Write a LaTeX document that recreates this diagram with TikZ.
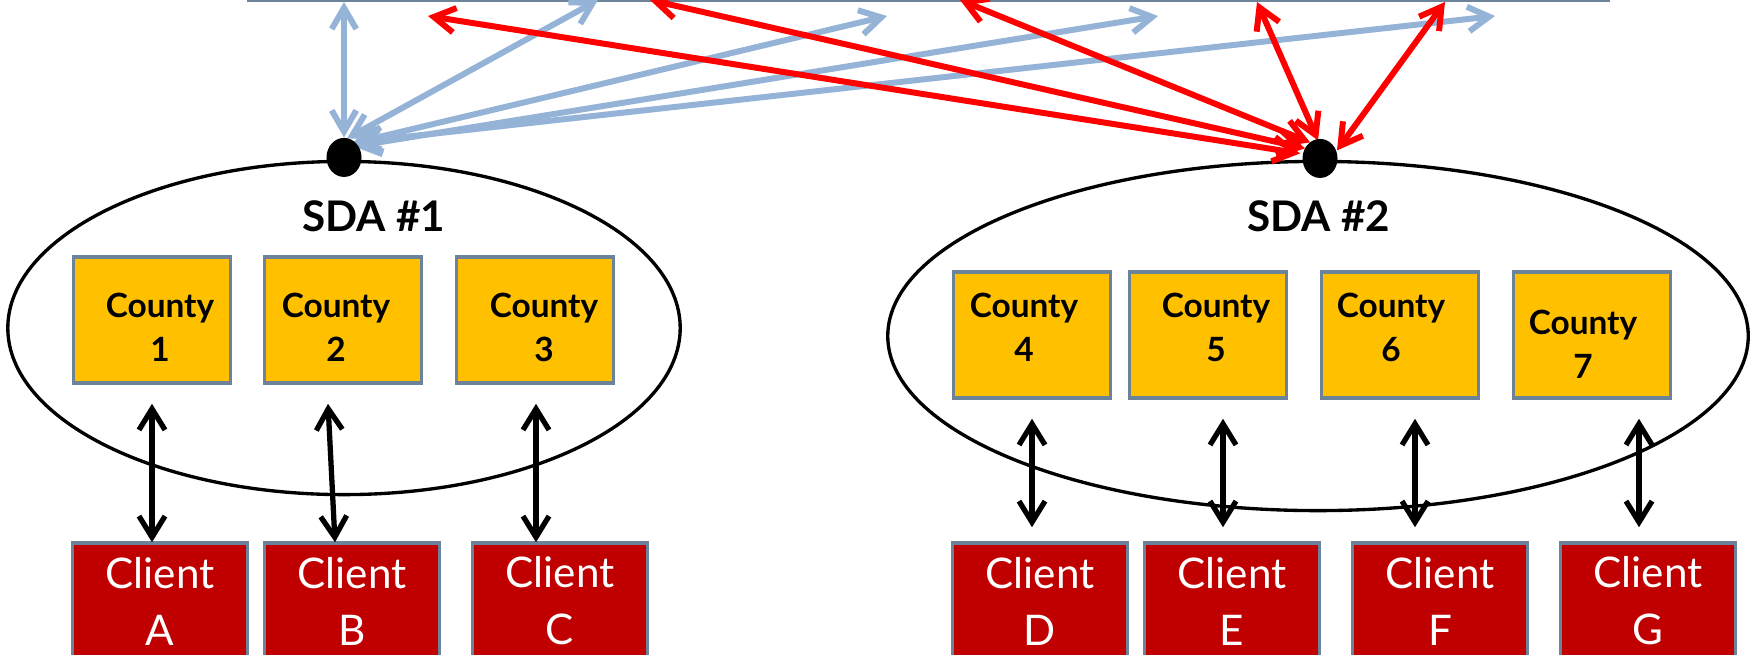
\documentclass[tikz,border=0pt]{standalone}
\usepackage{fontspec}
\setmainfont{Lato}
\usetikzlibrary{arrows.meta,shapes.geometric}
\definecolor{framegray}{RGB}{108,131,153}
\definecolor{countygold}{RGB}{255,192,0}
\definecolor{clientred}{RGB}{192,0,0}
\definecolor{linkblue}{RGB}{149,179,215}
\definecolor{linkred}{RGB}{255,0,0}
\tikzset{
  county/.style={draw=framegray, line width=1pt, fill=countygold, minimum width=1.57cm, minimum height=1.26cm, inner sep=0pt},
  ctext/.style={font=\bfseries\fontsize{9.5}{12.5}\selectfont, align=center, inner sep=0pt},
  client/.style={draw=framegray, line width=1pt, fill=clientred, text=white, minimum width=1.75cm, minimum height=1.16cm, inner sep=0pt, align=center, font=\fontsize{12}{16.2}\selectfont},
  sda/.style={draw, ellipse, line width=0.95pt, inner sep=0pt, outer sep=0pt},
  sdalabel/.style={anchor=base, inner sep=0pt, font=\bfseries\fontsize{12}{14}\selectfont},
  hub/.style={ellipse, fill=black, inner sep=0pt, minimum width=0.35cm, minimum height=0.39cm},
  link/.style={line width=1.7pt, {Straight Barb[length=6pt,width=7pt]}-{Straight Barb[length=6pt,width=7pt]}},
  conn/.style={line width=1.5pt, {Straight Barb[length=6pt,width=7.4pt]}-{Straight Barb[length=6pt,width=7.4pt]}}
}
\begin{document}
\begin{tikzpicture}[x=0.01cm, y=-0.01cm]
\useasboundingbox (0,0) rectangle (1752,654);
% state bar at the top
\draw[framegray, line width=1.3pt] (247,0) -- (1610,0);
% the two SDAs
\node[sda, minimum width=6.72cm, minimum height=3.33cm] (sda1) at (344,328) {};
\node[sda, minimum width=8.60cm, minimum height=3.49cm] (sda2) at (1318,336) {};
\node[sdalabel] (s1) at (374,231) {SDA \#1};
\node[sdalabel] (s2) at (1319,231) {SDA \#2};
% counties
\foreach \n/\x/\y in {c1/152/320, c2/343/320, c3/535/320, c4/1032/335, c5/1208/335, c6/1400/335, c7/1592/335}
  \node[county] (\n) at (\x,\y) {};
\foreach \n/\x/\y/\t in {c1/8/7/1, c2/-7/7/2, c3/9/7/3, c4/-8/-8/4, c5/8/-8/5, c6/-9/-8/6, c7/-9/9/7}
  \node[ctext] (t\t) at ([shift={(\x,\y)}]\n.center) {County\\\t};
% clients
\foreach \n/\x/\t in {kA/160/A, kB/352/B, kC/560/C, kD/1040/D, kE/1232/E, kF/1440/F, kG/1648/G}
  \node[client] (\n) at (\x,601) {Client\\\t};
\foreach \a/\b/\ax/\ay/\bx/\by in {c1/kA/0/19/-8/1, c2/kB/-15/19/-17/1, c3/kC/1/19/-24/1, c4/kD/0/19/-8/-14, c5/kE/15/19/-9/-14, c6/kF/15/19/-25/-14, c7/kG/47/19/-9/-14}
  \draw[conn] ([shift={(\ax,\ay)}]\a.south) -- ([shift={(\bx,\by)}]\b.north);
% links up to the state
\coordinate (p1) at ([shift={(0,-4)}]sda1.north);
\coordinate (p2) at ([shift={(2,-3)}]sda2.north);
\foreach \n/\x/\y in {u1/344/2, u2/598/0, u3/887/16, u4/1158/16, u5/1495/16, v1/428/16, v2/650/0, v3/960/0, v4/1257/2, v5/1445/2}
  \coordinate (\n) at (\x,\y);
\foreach \n/\dx/\dy in {u1/0/-20, u2/3/-19, u3/8/-14, u4/10/-11, u5/11/-15}
  \draw[link, linkblue] ([shift={(\dx,\dy)}]p1) -- (\n);
\foreach \n/\dx/\dy in {v1/-20/-5, v2/-15/-10, v3/-10/-16, v4/-2/-18, v5/17/-8}
  \draw[link, linkred] ([shift={(\dx,\dy)}]p2) -- (\n);
\node[hub] (d1) at (p1) {};
\node[hub] (d2) at (p2) {};
\end{tikzpicture}
\end{document}
